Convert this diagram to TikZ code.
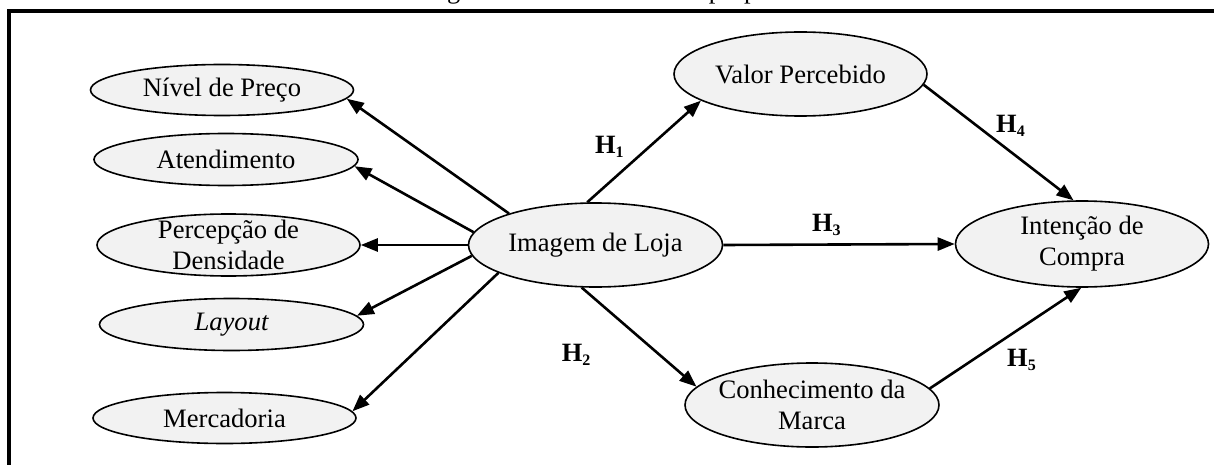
\documentclass[tikz,border=0pt]{standalone}
\usepackage{fontspec}
\setmainfont{Liberation Serif}
\usetikzlibrary{shapes.geometric,arrows.meta}
\definecolor{boxgray}{HTML}{F2F2F2}
\begin{document}
\begin{tikzpicture}[x=1pt,y=-1pt,
  var/.style={ellipse, draw, line width=1.6pt, fill=boxgray, inner xsep=-5pt, inner ysep=-10pt,
              align=center, font=\fontsize{26.6}{31}\selectfont},
  link/.style={line width=2.6pt, -{Triangle[length=17pt,width=13pt]}},
  hyp/.style={font=\fontsize{26.4}{31}\selectfont\bfseries, anchor=base west, inner sep=0pt},
  frame/.style={line width=4pt, line cap=butt, line join=miter}]
\useasboundingbox (0,0) rectangle (1214,465);
% caption (cut off by the page edge)
\node[anchor=base west, inner sep=0pt, font=\fontsize{26.4}{31}\selectfont] (cap) at (425,-1.5) {Figura 1 – Modelo teórico proposto};
% frame
\draw[frame] (8.8,470) -- (8.8,11.3) -- (1220,11.3);
% nodes
\node[var, minimum width=263pt, minimum height=51pt] (niv) at (222,90) {Nível de Preço};
\node[var, minimum width=264pt, minimum height=52pt] (ate) at (226,159.5) {Atendimento};
\node[var, minimum width=263pt, minimum height=62pt] (per) at (228.5,245) {Percepção de\\Densidade};
\node[var, minimum width=264pt, minimum height=52pt] (lay) at (231.5,324.5) {\itshape Layout};
\node[var, minimum width=263pt, minimum height=51pt] (mer) at (224.5,418) {Mercadoria};
\node[var, minimum width=254pt, minimum height=84pt] (img) at (595.5,245) {Imagem de Loja};
\node[var, minimum width=253pt, minimum height=84pt] (val) at (800.5,74) {Valor Percebido};
\node[var, minimum width=254pt, minimum height=84pt] (con) at (812,405) {Conhecimento da\\Marca};
\node[var, minimum width=253pt, minimum height=86pt] (int) at (1082,244) {Intenção de\\Compra};
% connectors
\draw[link] (img.160) -- (niv.-4);
\draw[link] (img.174) -- (ate.-3);
\draw[link] (img.west) -- (per.east);
\draw[link] (img.185.4) -- (lay.4.2);
\draw[link] (img.196) -- (mer.3.6);
\draw[link] (img.101.6) -- (val.195.4);
\draw[link] (img.east) -- (int.west);
\draw[link] (img.252) -- (con.171.4);
\draw[link] (val.-5.9) -- (int.101.6);
\draw[link] (con.8) -- (int.269);
% hypothesis labels
\node[hyp] (h1) at (595,153.3) {H{\fontsize{16}{16}\selectfont\raisebox{-4pt}{1}}};
\node[hyp] (h2) at (561.7,361.7) {H{\fontsize{16}{16}\selectfont\raisebox{-4pt}{2}}};
\node[hyp] (h3) at (812,231) {H{\fontsize{16}{16}\selectfont\raisebox{-4pt}{3}}};
\node[hyp] (h4) at (996,133) {H{\fontsize{16}{16}\selectfont\raisebox{-4pt}{4}}};
\node[hyp] (h5) at (1007,366) {H{\fontsize{16}{16}\selectfont\raisebox{-4pt}{5}}};
\end{tikzpicture}
\end{document}
